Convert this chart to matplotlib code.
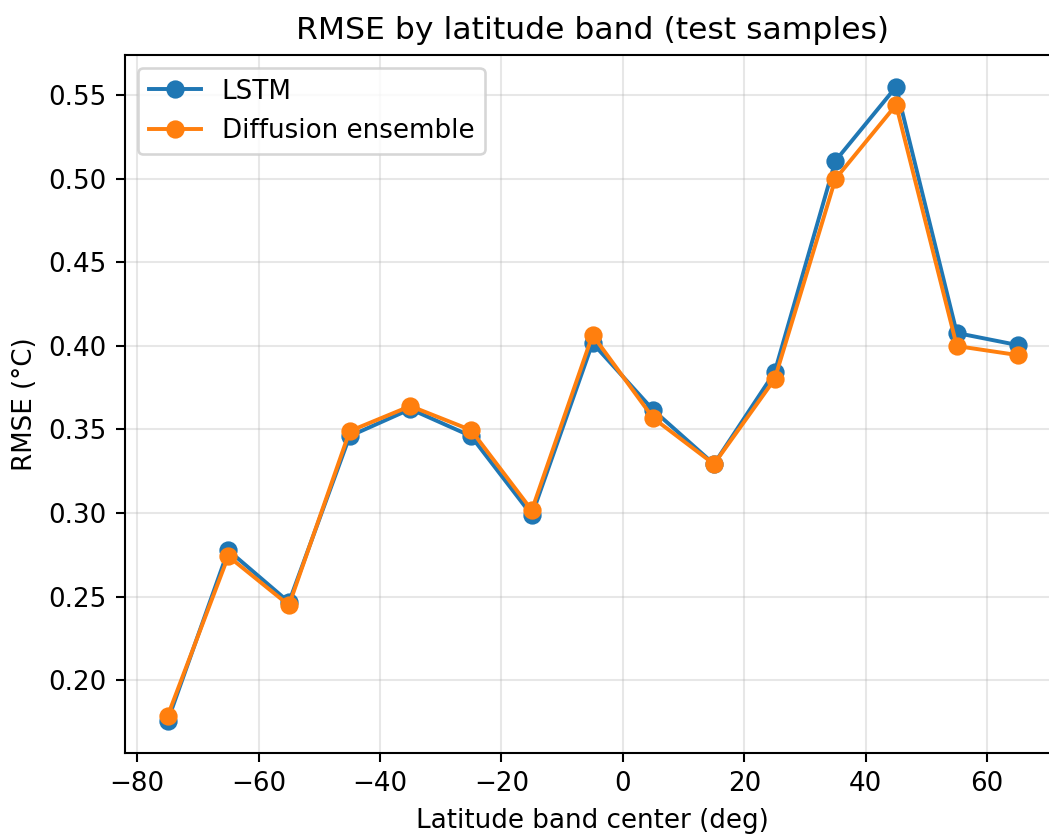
import matplotlib
matplotlib.use("Agg")
import matplotlib.pyplot as plt

lat_centers = [-75, -65, -55, -45, -35, -25, -15, -5, 5, 15, 25, 35, 45, 55, 65]
rmse_lstm = [0.1755, 0.2778, 0.2467, 0.3460, 0.3622, 0.3460, 0.2987, 0.4017,
             0.3616, 0.3293, 0.3843, 0.5106, 0.5549, 0.4077, 0.4005]
rmse_diff = [0.1785, 0.2742, 0.2449, 0.3490, 0.3640, 0.3496, 0.3017, 0.4065,
             0.3568, 0.3293, 0.3801, 0.4998, 0.5441, 0.3999, 0.3945]

DPI = 188
fig, ax = plt.subplots(figsize=(1049 / DPI, 835 / DPI), dpi=DPI)
ax.plot(lat_centers, rmse_lstm, "o-", label="LSTM")
ax.plot(lat_centers, rmse_diff, "o-", label="Diffusion ensemble")
ax.set_xlabel("Latitude band center (deg)")
ax.set_ylabel("RMSE (°C)")
ax.set_title("RMSE by latitude band (test samples)")
ax.grid(alpha=0.3)
ax.legend(loc="upper left")
# the reference is cropped on the right, so the axes run past the image edge
fig.subplots_adjust(left=0.1192, right=1.0105, top=0.934, bottom=0.0982)
fig.savefig("out.png", dpi=DPI)
